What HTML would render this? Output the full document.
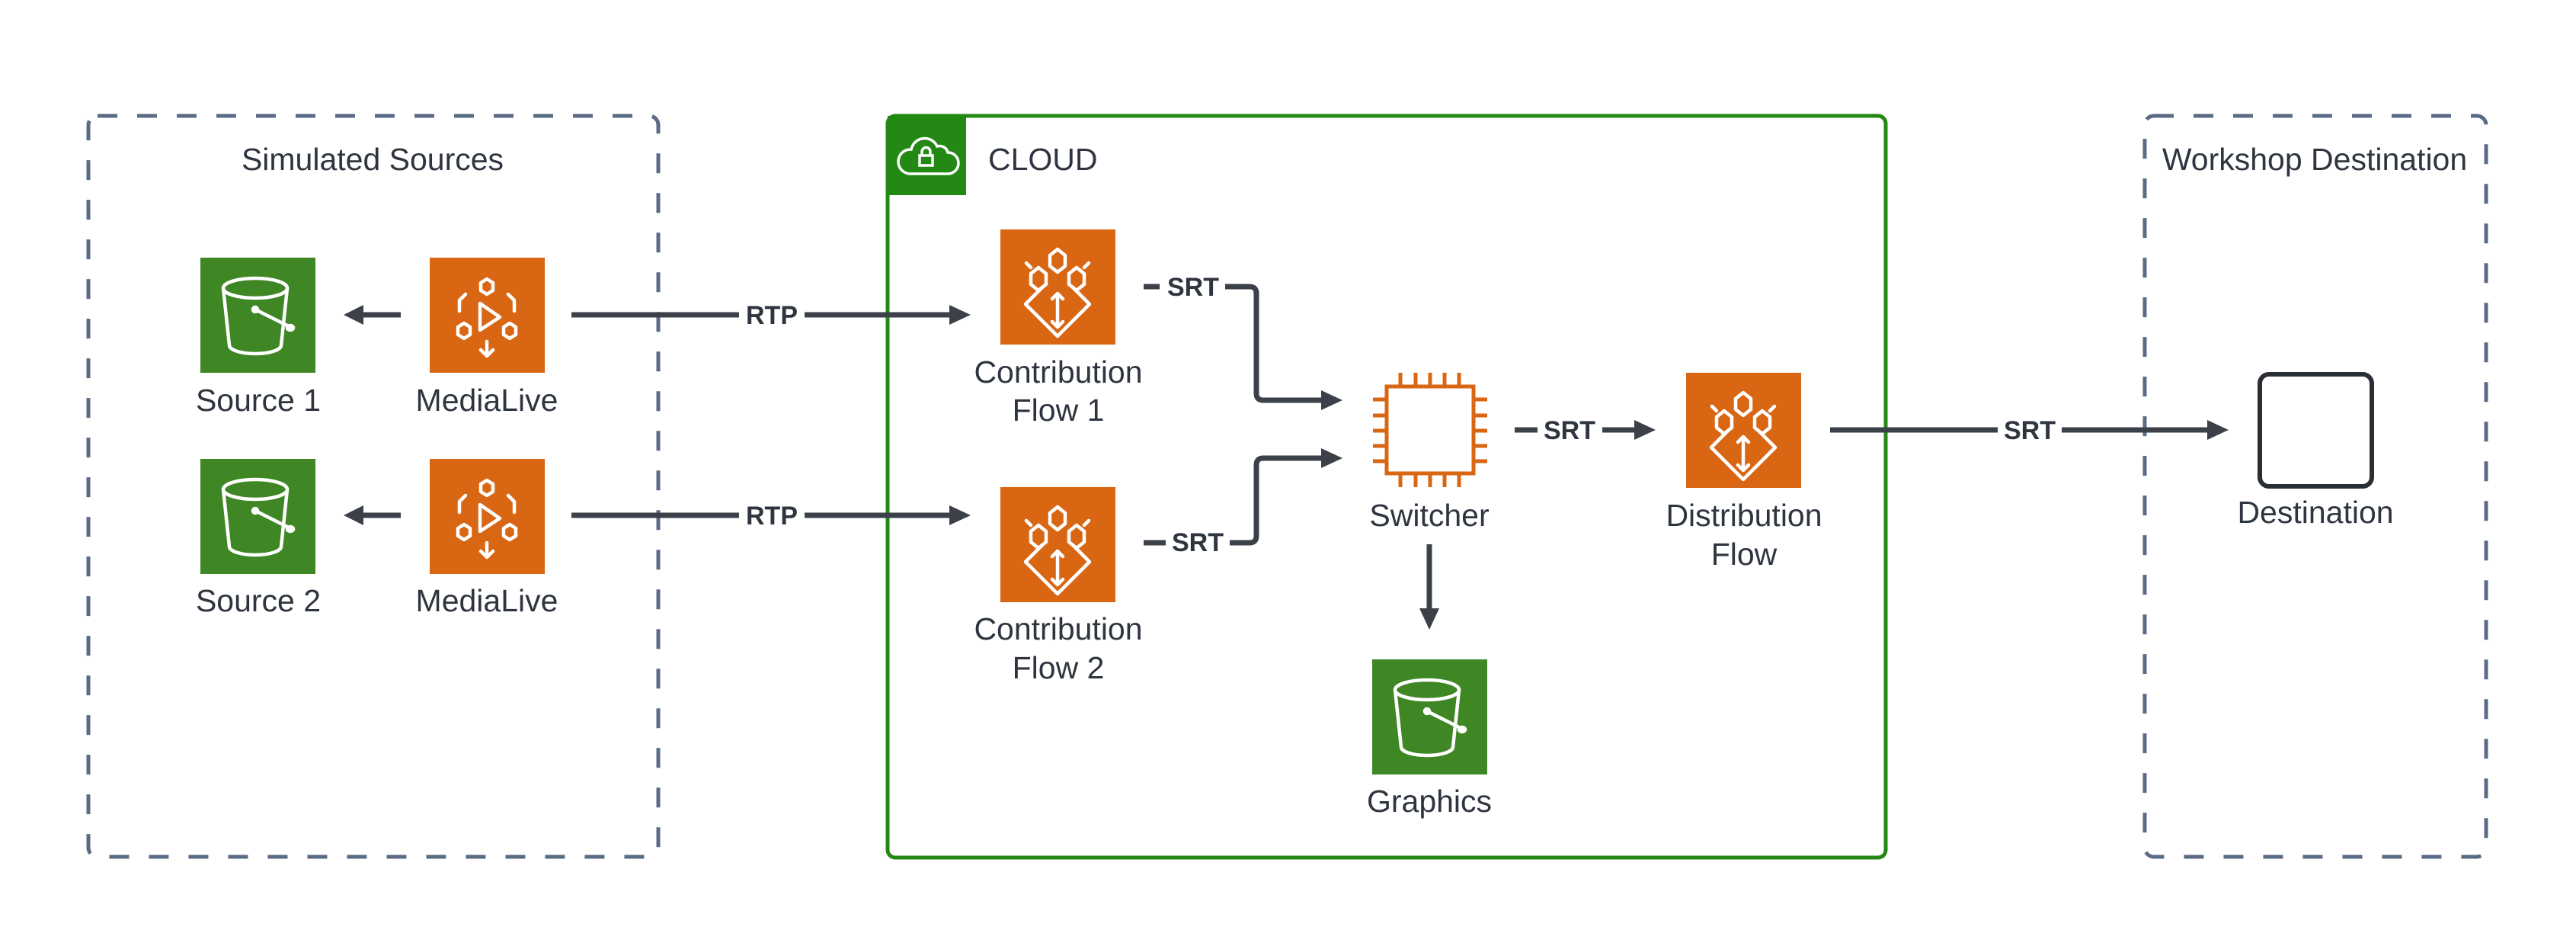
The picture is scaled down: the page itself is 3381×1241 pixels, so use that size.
<!DOCTYPE html>
<html><head><meta charset="utf-8"><style>
html,body{margin:0;padding:0;background:#fff}
svg{display:block}
text{font-family:"Liberation Sans",sans-serif}
.lbl{font-size:41px;fill:#2f3540;text-anchor:middle}
.cl{font-size:34px;font-weight:bold;fill:#2f3540;text-anchor:middle}
.ln{stroke:#3b4049;stroke-width:7;fill:none}
.ah{fill:#3b4049}
.ic{stroke:#fff;stroke-width:4.5;fill:none;stroke-linejoin:round;stroke-linecap:round}
</style></head><body>
<svg width="3381" height="1241" viewBox="0 0 3381 1241" xmlns="http://www.w3.org/2000/svg">
<defs>
<g id="bucket">
<rect width="151" height="151" fill="#3f8624"/>
<g class="ic">
<ellipse cx="72" cy="40" rx="42" ry="13"/>
<path d="M30 40 L38 115 A34 11 0 0 0 106 115 L114 40"/>
<path d="M72 68 L120 92"/>
<circle cx="72" cy="68" r="3"/>
<ellipse cx="118" cy="92" rx="4" ry="3"/>
</g>
</g>
<g id="live">
<rect width="151" height="151" fill="#d86613"/>
<g class="ic">
<path d="M75 28 l8 5 v10 l-8 5 l-8 -5 v-10z"/>
<path d="M45 86 l8 5 v10 l-8 5 l-8 -5 v-10z"/>
<path d="M105 86 l8 5 v10 l-8 5 l-8 -5 v-10z"/>
<path d="M66 60 v35 l26 -17z"/>
<path d="M47 48 l-8 8 v14 M39 56 l0 0"/>
<path d="M103 48 l8 8 v14"/>
<path d="M75 110 v18 M67 121 l8 8 l8 -8"/>
</g>
</g>
<g id="flow">
<rect width="151" height="151" fill="#d86613"/>
<g class="ic">
<path d="M75 26 l10 8 v14 l-10 8 l-10 -8 v-14z"/>
<path d="M50 50 l10 8 v14 l-10 8 l-10 -8 v-14z"/>
<path d="M100 50 l10 8 v14 l-10 8 l-10 -8 v-14z"/>
<path d="M40 50 l-6 -6 M110 50 l6 -6"/>
<path d="M55 86 l-22 22 l42 42 l42 -42 l-22 -22" transform="translate(0,-10)"/>
<path d="M75 84 v44 M68 91 l7 -7 l7 7 M68 121 l7 7 l7 -7"/>
</g>
</g>
</defs>

<!-- left dashed box -->
<rect x="116" y="152" width="748" height="972" rx="12" fill="none" stroke="#5a6b86" stroke-width="5" stroke-dasharray="26 26"/>
<text class="lbl" x="489" y="223">Simulated Sources</text>

<!-- right dashed box -->
<rect x="2815" y="152" width="448" height="972" rx="12" fill="none" stroke="#5a6b86" stroke-width="5" stroke-dasharray="26 26"/>
<text class="lbl" x="3038" y="223">Workshop Destination</text>

<!-- cloud box -->
<rect x="1165" y="152" width="1310" height="973" rx="10" fill="none" stroke="#248814" stroke-width="5"/>
<rect x="1165" y="152" width="103" height="104" fill="#248814"/>
<g stroke="#fff" stroke-width="3.5" fill="none">
<path d="M1194 228 h50 a14 14 0 0 0 0 -28 a11 11 0 0 0 -14 -8 a18 18 0 0 0 -34 4 a16 16 0 0 0 -2 32z"/>
<rect x="1207" y="204" width="17" height="13"/>
<path d="M1210 204 v-5 a5.5 5.5 0 0 1 11 0 v5"/>
</g>
<text x="1297" y="223" style="font-size:41px;fill:#2f3540">CLOUD</text>

<!-- icons -->
<use href="#bucket" x="263" y="338"/>
<use href="#live" x="564" y="338"/>
<use href="#bucket" x="263" y="602"/>
<use href="#live" x="564" y="602"/>
<text class="lbl" x="339" y="539">Source 1</text>
<text class="lbl" x="639" y="539">MediaLive</text>
<text class="lbl" x="339" y="802">Source 2</text>
<text class="lbl" x="639" y="802">MediaLive</text>

<use href="#flow" x="1313" y="301"/>
<use href="#flow" x="1313" y="639"/>
<text class="lbl" x="1389" y="502">Contribution</text>
<text class="lbl" x="1389" y="552">Flow 1</text>
<text class="lbl" x="1389" y="839">Contribution</text>
<text class="lbl" x="1389" y="890">Flow 2</text>

<!-- switcher chip -->
<g stroke="#d86613" stroke-width="5" fill="none">
<rect x="1820" y="507" width="114" height="114"/>
<path d="M1838 489v18M1858 489v18M1877 489v18M1896 489v18M1915 489v18
M1838 621v18M1858 621v18M1877 621v18M1896 621v18M1915 621v18
M1802 524h18M1802 545h18M1802 565h18M1802 585h18M1802 605h18
M1934 524h18M1934 545h18M1934 565h18M1934 585h18M1934 605h18"/>
</g>
<text class="lbl" x="1876" y="690">Switcher</text>

<use href="#bucket" x="1801" y="865"/>
<text class="lbl" x="1876" y="1065">Graphics</text>

<use href="#flow" x="2213" y="489"/>
<text class="lbl" x="2289" y="690">Distribution</text>
<text class="lbl" x="2289" y="741">Flow</text>

<rect x="2966" y="491" width="147" height="147" rx="12" fill="none" stroke="#2a2e35" stroke-width="6"/>
<text class="lbl" x="3039" y="686">Destination</text>

<!-- connectors -->
<path class="ln" d="M526 413 H470"/><path class="ah" d="M451 413 l26 -13 v26z"/>
<path class="ln" d="M526 676 H470"/><path class="ah" d="M451 676 l26 -13 v26z"/>

<path class="ln" d="M750 413 H970 M1056 413 H1248"/><path class="ah" d="M1274 413 l-28 -13 v26z"/>
<text class="cl" x="1013" y="425">RTP</text>
<path class="ln" d="M750 676 H970 M1056 676 H1248"/><path class="ah" d="M1274 676 l-28 -13 v26z"/>
<text class="cl" x="1013" y="688">RTP</text>

<path class="ln" d="M1501 376 H1522 M1608 376 H1640 q9 0 9 9 V516 q0 9 9 9 H1735"/><path class="ah" d="M1762 525 l-28 -13 v26z"/>
<text class="cl" x="1566" y="388">SRT</text>
<path class="ln" d="M1501 712 H1530 M1614 712 H1640 q9 0 9 -9 V610 q0 -9 9 -9 H1735"/><path class="ah" d="M1762 601 l-28 -13 v26z"/>
<text class="cl" x="1572" y="723">SRT</text>

<path class="ln" d="M1876 714 V800"/><path class="ah" d="M1876 826 l-13 -28 h26z"/>

<path class="ln" d="M1988 564 H2018 M2103 564 H2146"/><path class="ah" d="M2173 564 l-28 -13 v26z"/>
<text class="cl" x="2060" y="576">SRT</text>

<path class="ln" d="M2402 564 H2622 M2706 564 H2898"/><path class="ah" d="M2925 564 l-28 -13 v26z"/>
<text class="cl" x="2664" y="576">SRT</text>
</svg>
</body></html>
